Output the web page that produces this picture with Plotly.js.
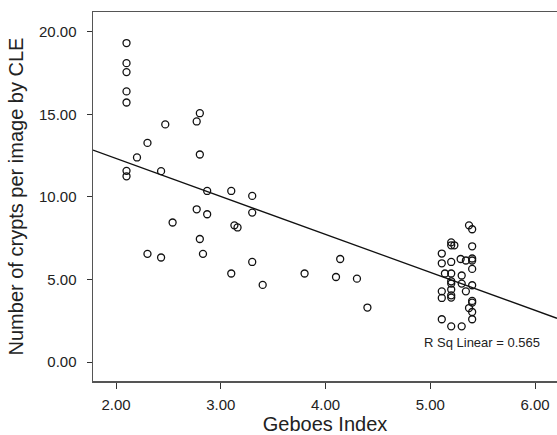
<!DOCTYPE html>
<html>
<head>
<meta charset="utf-8">
<script src="https://cdn.plot.ly/plotly-3.0.1.min.js"></script>
<style>
html,body{margin:0;padding:0;overflow:hidden;background:#fff;}
#chart{width:557px;height:435px;}
</style>
</head>
<body>
<div id="chart"></div>
<script>
// Geboes Index (x) vs number of crypts per image by CLE (y)
const geboesIndex = [
  2.10, 2.10, 2.10, 2.10, 2.10, 2.80, 2.77, 2.47, 2.30, 2.20, 2.80,
  2.10, 2.10, 2.43, 2.87, 3.10, 3.30, 3.30, 2.77, 2.87, 2.54, 3.13, 3.16,
  2.80, 2.30, 2.83, 2.43, 3.30, 3.10, 3.80, 3.40, 4.14, 4.10, 4.30, 4.40,
  5.37, 5.40, 5.20, 5.20, 5.23, 5.40, 5.11, 5.11, 5.20, 5.29, 5.34, 5.40, 5.40,
  5.40, 5.14, 5.20, 5.30, 5.20, 5.20, 5.30, 5.40, 5.20, 5.34, 5.11, 5.11,
  5.20, 5.20, 5.40, 5.40, 5.37, 5.40, 5.40, 5.11, 5.20, 5.30
];
const cryptsPerImage = [
  19.32, 18.10, 17.56, 16.39, 15.72, 15.07, 14.57, 14.39, 13.27, 12.39, 12.57,
  11.58, 11.25, 11.56, 10.36, 10.36, 10.06, 9.05, 9.25, 8.95, 8.45, 8.28, 8.15,
  7.45, 6.55, 6.55, 6.33, 6.06, 5.36, 5.36, 4.67, 6.24, 5.15, 5.05, 3.30,
  8.28, 8.04, 7.25, 7.07, 7.07, 7.01, 6.57, 5.98, 6.06, 6.24, 6.15, 6.27, 6.15,
  5.64, 5.36, 5.36, 5.24, 4.89, 4.75, 4.75, 4.65, 4.39, 4.28, 4.28, 3.88,
  4.04, 3.90, 3.70, 3.60, 3.27, 3.03, 2.59, 2.59, 2.16, 2.16
];
// Fit line
const fitIntercept = 16.93;
const fitSlope = -2.30;
const rSqLabel = "R Sq Linear = 0.565";
const xTickVals = [2, 3, 4, 5, 6];
const xTickText = ["2.00", "3.00", "4.00", "5.00", "6.00"];
const yTickVals = [0, 5, 10, 15, 20];
const yTickText = ["0.00", "5.00", "10.00", "15.00", "20.00"];

const xRange = [1.78, 6.21];
const yRange = [-1.15, 21.2];
const lineX = xRange.slice();
const lineY = lineX.map(v => fitIntercept + fitSlope * v);

const txt = '#222';
const font = 'Liberation Sans, Arial, Helvetica, sans-serif';

const traces = [
  {
    x: lineX, y: lineY, type: 'scatter', mode: 'lines',
    line: {color: '#111', width: 1.3}, hoverinfo: 'skip', showlegend: false
  },
  {
    x: geboesIndex, y: cryptsPerImage, type: 'scatter', mode: 'markers',
    marker: {symbol: 'circle-open', size: 7, color: '#111', line: {width: 1.3, color: '#111'}},
    showlegend: false
  }
];

const L = 93, T = 12, B = 54;
const layout = {
  width: 557, height: 435,
  margin: {l: L, r: 0, t: T, b: B},
  paper_bgcolor: '#fff', plot_bgcolor: '#fff',
  font: {family: font, color: txt},
  xaxis: {
    range: xRange, tickvals: xTickVals, ticktext: xTickText,
    showgrid: false, zeroline: false,
    showline: true, linecolor: '#555', linewidth: 1.5, mirror: true,
    ticks: 'outside', ticklen: 6, tickcolor: '#333', tickwidth: 1,
    ticklabelstandoff: 3,
    tickfont: {size: 15, color: txt, family: font},
    title: {text: 'Geboes Index', font: {size: 20, color: txt, family: font}, standoff: 4}
  },
  yaxis: {
    range: yRange, tickvals: yTickVals, ticktext: yTickText,
    showgrid: false, zeroline: false,
    showline: true, linecolor: '#555', linewidth: 1.5,
    ticks: 'outside', ticklen: 5, tickcolor: '#333', tickwidth: 1,
    ticklabelstandoff: 7,
    tickfont: {size: 15, color: txt, family: font},
    title: {text: 'Number of crypts per image by CLE', font: {size: 20, color: txt, family: font}, standoff: 10}
  },
  annotations: [{
    text: rSqLabel, xref: 'paper', yref: 'paper', showarrow: false,
    xanchor: 'center', yanchor: 'middle',
    x: (482 - L) / (557 - L),
    y: 1 - (342 - T) / (435 - B - T),
    font: {size: 13, color: txt, family: font}
  }]
};

Plotly.newPlot('chart', traces, layout, {displayModeBar: false, staticPlot: true});
</script>
</body>
</html>
